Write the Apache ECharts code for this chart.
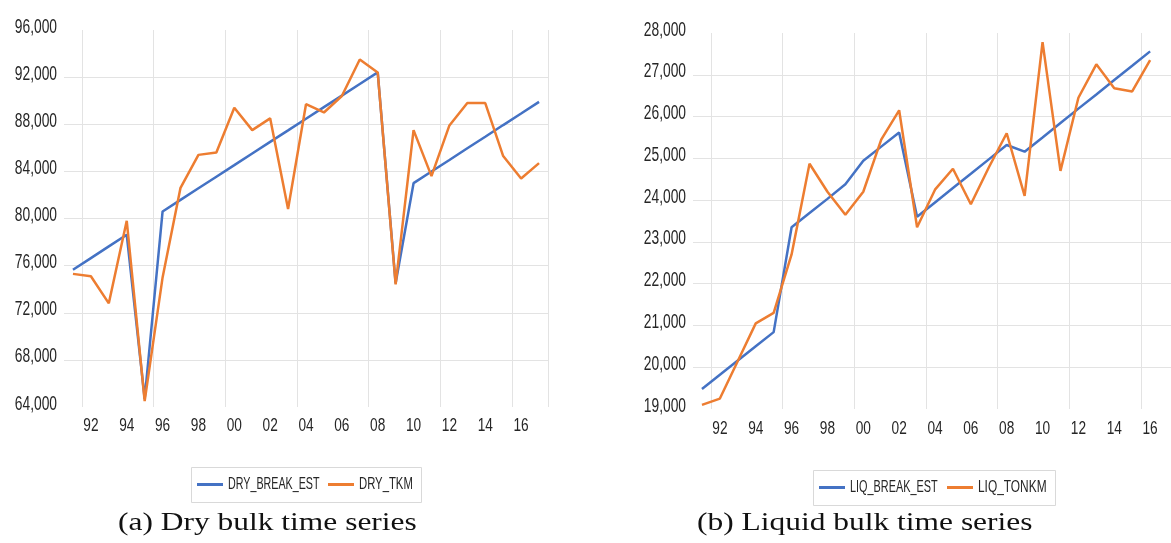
<!DOCTYPE html>
<html>
<head>
<meta charset="utf-8">
<script src="https://cdn.jsdelivr.net/npm/echarts@6/dist/echarts.min.js"></script>
<style>
html,body{margin:0;padding:0;background:#fff;}
#c{width:1171px;height:543px;}
</style>
</head>
<body>
<div id="c"></div>
<script>
const years = ['1991','1992','1993','1994','1995','1996','1997','1998','1999','2000','2001','2002','2003','2004','2005','2006','2007','2008','2009','2010','2011','2012','2013','2014','2015','2016','2017'];

const dryBreakEst = [75650, 76640, 77630, 78620, 64700, 80600, 81580, 82570, 83550, 84530, 85520, 86500, 87480, 88470, 89450, 90430, 91420, 92400, 74500, 83000, 83990, 84970, 85960, 86940, 87930, 88910, 89900];
const dryTkm = [75300, 75100, 72800, 79800, 64500, 75000, 82600, 85400, 85600, 89400, 87500, 88500, 80800, 89700, 89000, 90400, 93500, 92400, 74400, 87500, 83600, 87900, 89800, 89800, 85300, 83400, 84700];

const liqBreakEst = [19480, 19820, 20160, 20500, 20840, 23350, 23690, 24030, 24380, 24940, 25280, 25620, 23600, 23945, 24290, 24630, 24975, 25320, 25160, 25500, 25845, 26190, 26530, 26875, 27215, 27560, null];
const liqTonkm = [19100, 19250, 20150, 21050, 21300, 22700, 24870, 24200, 23650, 24200, 25450, 26150, 23350, 24250, 24750, 23900, 24780, 25600, 24100, 27780, 24700, 26450, 27250, 26680, 26600, 27350, null];

// tick labels
const xTickYears = ['1992','1994','1996','1998','2000','2002','2004','2006','2008','2010','2012','2014','2016'];
const dryYTicks = [64000, 68000, 72000, 76000, 80000, 84000, 88000, 92000, 96000];
const liqYTicks = [19000, 20000, 21000, 22000, 23000, 24000, 25000, 26000, 27000, 28000];

const BLUE = '#4472C4', ORANGE = '#ED7D31';
const GRID_C = '#e3e3e3';
const TXT = '#262626';
const SANS = '"Liberation Sans", Arial, sans-serif';

function xAxisFor(gridIndex) {
  return {
    type: 'category', gridIndex: gridIndex, data: years, boundaryGap: true,
    axisLine: {show: false}, axisTick: {show: false}, axisLabel: {show: false},
    splitLine: {show: true, interval: (i) => i % 4 === 1, lineStyle: {color: GRID_C, width: 1}}
  };
}
function yAxisFor(gridIndex, ticks) {
  return {
    type: 'value', gridIndex: gridIndex, min: ticks[0], max: ticks[ticks.length - 1], interval: ticks[1] - ticks[0],
    axisLine: {show: false}, axisTick: {show: false}, axisLabel: {show: false},
    splitLine: {show: true, showMinLine: false, showMaxLine: false, lineStyle: {color: GRID_C, width: 1}}
  };
}
function lineSeries(name, data, color, idx) {
  return {
    name: name, type: 'line', data: data, xAxisIndex: idx, yAxisIndex: idx,
    showSymbol: false, symbol: 'none', smooth: false, connectNulls: false,
    lineStyle: {color: color, width: 2.5}, itemStyle: {color: color},
    emphasis: {disabled: true}, animation: false
  };
}

const chart = echarts.init(document.getElementById('c'), null, {renderer: 'canvas'});
chart.setOption({
  backgroundColor: '#fff',
  animation: false,
  grid: [
    {left: 64, top: 30, width: 484, height: 377, outerBoundsMode: 'none', containLabel: false},
    {left: 693, top: 33, width: 484, height: 376, outerBoundsMode: 'none', containLabel: false}
  ],
  xAxis: [xAxisFor(0), xAxisFor(1)],
  yAxis: [yAxisFor(0, dryYTicks), yAxisFor(1, liqYTicks)],
  series: [
    lineSeries('DRY_BREAK_EST', dryBreakEst, BLUE, 0),
    lineSeries('DRY_TKM', dryTkm, ORANGE, 0),
    lineSeries('LIQ_BREAK_EST', liqBreakEst, BLUE, 1),
    lineSeries('LIQ_TONKM', liqTonkm, ORANGE, 1)
  ]
});

// condensed tick labels placed through the chart's own scales
const graphics = [];
function condText(x, y, text, size, sx, align) {
  return {type: 'text', x: x, y: y, scaleX: sx, silent: true,
    style: {text: text, x: 0, y: 0, align: align, verticalAlign: 'middle', font: size + 'px ' + SANS, fill: TXT}};
}
const axisSets = [
  {idx: 0, yTicks: dryYTicks, labelGap: 7, xLabelDy: 19},
  {idx: 1, yTicks: liqYTicks, labelGap: 7, xLabelDy: 20}
];
axisSets.forEach(function (s) {
  const gridRect = chart.getModel().getComponent('grid', s.idx).coordinateSystem.getRect();
  s.yTicks.forEach(function (v) {
    const py = chart.convertToPixel({yAxisIndex: s.idx}, v);
    graphics.push(condText(gridRect.x - s.labelGap, py - 3, v.toLocaleString('en-US'), 20, 0.69, 'right'));
  });
  xTickYears.forEach(function (y) {
    const px = chart.convertToPixel({xAxisIndex: s.idx}, years.indexOf(y));
    graphics.push(condText(px, gridRect.y + gridRect.height + s.xLabelDy, y.slice(2), 19, 0.72, 'center'));
  });
});

// legends
function legendGroup(box, items) {
  graphics.push({type: 'rect', silent: true, shape: {x: box[0] + 0.5, y: box[1] + 0.5, width: box[2], height: box[3]},
    style: {fill: '#fff', stroke: '#d9d9d9', lineWidth: 1}});
  const cy = box[1] + box[3] / 2;
  items.forEach(function (it) {
    graphics.push({type: 'line', silent: true, shape: {x1: it.x, y1: cy, x2: it.x + 26, y2: cy},
      style: {stroke: it.color, lineWidth: 3}});
    graphics.push(condText(it.x + 31, cy, it.name, 17, it.sx, 'left'));
  });
}
legendGroup([191, 467, 230, 35], [
  {name: 'DRY_BREAK_EST', color: BLUE, x: 197, sx: 0.63},
  {name: 'DRY_TKM', color: ORANGE, x: 328, sx: 0.665}
]);
legendGroup([813, 470, 242, 35], [
  {name: 'LIQ_BREAK_EST', color: BLUE, x: 819, sx: 0.64},
  {name: 'LIQ_TONKM', color: ORANGE, x: 947, sx: 0.70}
]);

// captions
const SERIF = '26px "Liberation Serif", "Times New Roman", serif';
graphics.push({type: 'text', x: 118, y: 523, scaleX: 1.21, silent: true,
  style: {text: '(a) Dry bulk time series', x: 0, y: 0, align: 'left', verticalAlign: 'middle', font: SERIF, fill: '#111'}});
graphics.push({type: 'text', x: 697, y: 523, scaleX: 1.21, silent: true,
  style: {text: '(b) Liquid bulk time series', x: 0, y: 0, align: 'left', verticalAlign: 'middle', font: SERIF, fill: '#111'}});

chart.setOption({graphic: graphics});
</script>
</body>
</html>
